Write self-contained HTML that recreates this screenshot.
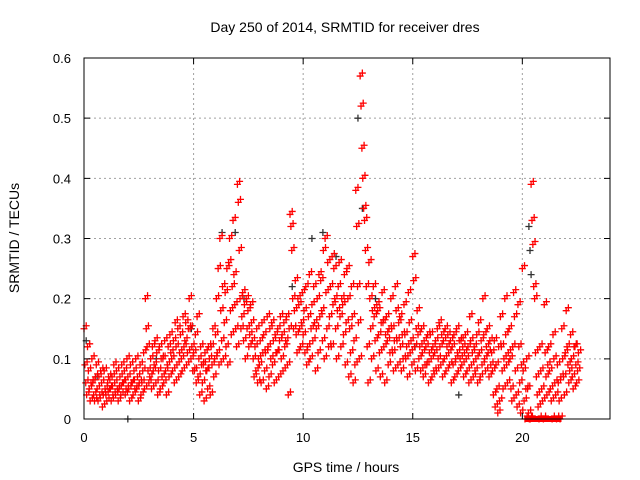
<!DOCTYPE html>
<html><head><meta charset="utf-8"><style>
body{margin:0;background:#fff}
svg{display:block;font-family:"Liberation Sans",sans-serif}
</style></head><body>
<svg id="chart" width="640" height="480" viewBox="0 0 640 480">
<text x="345" y="32" font-size="14" text-anchor="middle">Day 250 of 2014, SRMTID for receiver dres</text>
<text x="0" y="0" font-size="14" text-anchor="middle" transform="translate(19,238) rotate(-90)">SRMTID / TECUs</text>
<text x="346" y="472" font-size="14" text-anchor="middle">GPS time / hours</text>
<g id="grid"></g><g id="marks"></g><g id="axes"></g>
</svg>
<script>
const xTicks=[0,5,10,15,20];
const yTicks=[0,0.1,0.2,0.3,0.4,0.5,0.6];
const yTickLabels=["0","0.1","0.2","0.3","0.4","0.5","0.6"];
const binStarts=[0,0.2,0.4,0.6,0.8,1,1.2,1.4,1.6,1.8,2,2.2,2.4,2.6,2.8,3,3.2,3.4,3.6,3.8,4,4.2,4.4,4.6,4.8,5,5.2,5.4,5.6,5.8,6,6.2,6.4,6.6,6.8,7,7.2,7.4,7.6,7.8,8,8.2,8.4,8.6,8.8,9,9.2,9.4,9.6,9.8,10,10.2,10.4,10.6,10.8,11,11.2,11.4,11.6,11.8,12,12.2,12.4,12.6,12.8,13,13.2,13.4,13.6,13.8,14,14.2,14.4,14.6,14.8,15,15.2,15.4,15.6,15.8,16,16.2,16.4,16.6,16.8,17,17.2,17.4,17.6,17.8,18,18.2,18.4,18.6,18.8,19,19.2,19.4,19.6,19.8,20,20.2,20.4,20.6,20.8,21,21.2,21.4,21.6,21.8,22,22.2,22.4];
const binValues=[
[15,9,6,4,12],[8,5,3,6,10],[6,4,3,7,9],[5,3,7,4,8],[6,2,4,8,5],[4,3,6,7,5],[5,3,7,4,9],[6,4,8,5,3],[5,7,4,9,6],[6,8,4,5,10],
[7,5,3,9,6],[6,4,8,5,10],[5,7,3,6,9],[4,6,8,11,5],[20,15,12,8,6],[7,10,5,12,8],[9,13,6,11,4],[8,12,5,10,7],[10,6,13,8,4],[9,12,7,14,11],
[10,8,13,6,16],[12,9,15,7,11],[14,10,8,17,12],[13,16,9,11,15],[20,15,10,12,8],[11,8,14,6,17],[7,10,4,12,9],[6,9,3,11,8],[8,5,12,10,4],[12,9,15,7,10],
[14,20,11,25,9],[30,18,13,22,10],[16,21,12,25,9],[26,30,18,14,22],[33,24,19,15,12],[39,36,28,20,15],[17,21,13,19,10],[20,15,18,12,14],[19,16,13,10,7],[12,8,15,6,10],
[9,13,6,16,11],[14,8,11,5,17],[12,7,15,10,16],[9,13,6,14,11],[11,15,7,13,17],[10,14,8,16,12],[13,17,9,4,15],[34,32,28,20,15],[18,23,14,11,20],[19,15,12,16,21],
[14,18,11,22,9],[12,17,24,10,15],[19,13,22,16,8],[15,20,11,24,17],[23,18,13,28,10],[30,21,15,26,12],[17,22,12,27,19],[25,20,15,10,18],[22,26,17,12,20],[19,14,24,9,16],
[25,20,7,15,11],[22,17,6,13,9],[38,32,22,16,10],[57,52,45,40,35],[33,28,22,12,6],[26,20,15,10,18],[22,17,13,8,19],[18,14,11,7,16],[21,16,12,6,14],[17,13,9,15,11],
[20,15,11,8,13],[22,18,13,9,16],[17,12,8,14,10],[19,14,10,12,7],[21,16,11,13,9],[27,23,12,8,15],[18,14,10,12,8],[15,11,7,13,9],[12,9,14,6,11],[14,10,7,12,8],
[11,13,8,15,10],[16,12,9,14,7],[13,10,15,8,12],[14,11,9,13,6],[12,9,14,7,10],[15,11,8,13,10],[13,9,12,7,11],[14,10,8,12,6],[17,13,9,11,7],[12,8,10,14,6],
[16,11,7,13,9],[20,14,10,8,12],[15,11,7,13,9],[11,8,4,13,2],[9,5,1,12,3],[17,12,8,5,10],[20,14,9,6,11],[15,10,5,3,12],[21,17,8,4,2],[19,12,6,1,9],
[25,8,3,0,5],[10,5,1,0,0],[39,33,29,22,20],[11,7,4,2,0],[12,8,5,3,0],[19,11,7,4,9],[12,8,5,3,0],[14,10,6,4,0],[9,6,3,0,7],[15,10,7,4,11],
[18,12,9,6,8],[14,10,7,5,12],[12,9,6,8,11]];
const darkTimes=[0.1,0.6,2.0,3.3,4.9,6.3,6.9,7.3,9.5,10.4,10.9,11.5,12.5,12.7,13.3,15.1,17.1,20.3,20.35,20.4];
const darkValues=[0.13,0.07,0.0,0.1,0.15,0.31,0.31,0.2,0.22,0.3,0.31,0.27,0.5,0.35,0.2,0.12,0.04,0.32,0.28,0.24];
const zeroTimes=[20.25,20.45,20.65,20.85,21.1,21.3,21.45,21.65];

const X0=84,X1=610,Y0=419,Y1=58;
const xs=t=>X0+(t/24)*(X1-X0);
const ys=v=>Y0-(v/0.6)*(Y0-Y1);
const NS="http://www.w3.org/2000/svg";
function mk(tag,attrs,parent){const e=document.createElementNS(NS,tag);for(const k in attrs)e.setAttribute(k,attrs[k]);parent.appendChild(e);return e;}
const grid=document.getElementById('grid'),marks=document.getElementById('marks'),axes=document.getElementById('axes');
xTicks.forEach((t,i)=>{
 if(t>0){const g=mk('line',{x1:xs(t),x2:xs(t),y1:Y1,y2:Y0,stroke:'#a0a0a0','stroke-dasharray':'2,3'},grid);
 
 }
 const tk=mk('path',{d:`M${xs(t)},${Y0}v-6M${xs(t)},${Y1}v6`,stroke:'#000'},axes);
 
 
 const tl=mk('text',{x:xs(t),y:Y0+23,'font-size':13,'text-anchor':'middle'},axes);tl.textContent=String(t);
 
 
});
yTicks.forEach((v,i)=>{
 if(v>0&&v<0.6){const g=mk('line',{x1:X0,x2:X1,y1:ys(v),y2:ys(v),stroke:'#a0a0a0','stroke-dasharray':'2,3'},grid);
 
 }
 const tk=mk('path',{d:`M${X0},${ys(v)}h6M${X1},${ys(v)}h-6`,stroke:'#000'},axes);
 
 
 const tl=mk('text',{x:X0-13,y:ys(v)+5,'font-size':13,'text-anchor':'end'},axes);tl.textContent=yTickLabels[i];
 
 
});
const frame=mk('rect',{x:X0,y:Y1,width:X1-X0,height:Y0-Y1,fill:'none',stroke:'#000'},axes);


function cross(t,v,col,name){
 const x=xs(t),y=ys(v);
 const p=mk('path',{d:`M${x-3.5},${y}h7M${x},${y-3.5}v7`,stroke:col,'stroke-width':1.3},marks);
 
 
}
darkTimes.forEach((t,i)=>cross(t,darkValues[i],'#333','dark-point'));
binStarts.forEach((t0,b)=>{
 binValues[b].forEach((v,j)=>{
  cross(t0+j*0.04,v/100,'#ff0000','srmtid-point');
  cross(t0+j*0.04+0.1,v/100+0.005,'#ff0000','srmtid-point');
 });
});
zeroTimes.forEach(t=>{
 const r=mk('rect',{x:xs(t)-3,y:Y0-3,width:6,height:6,fill:'#ff0000'},marks);
 
 
});
</script>
</body></html>
